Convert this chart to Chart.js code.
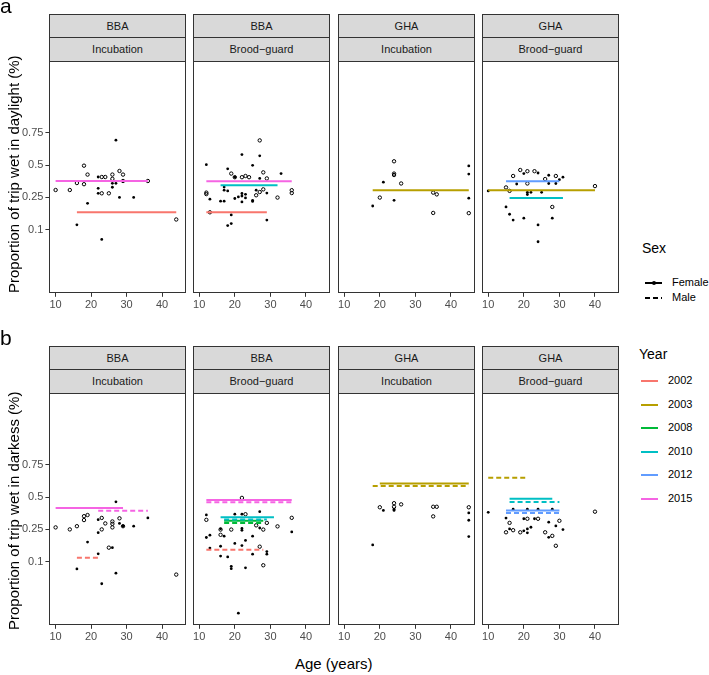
<!DOCTYPE html>
<html><head><meta charset="utf-8">
<script src="https://cdn.jsdelivr.net/npm/chart.js@4/dist/chart.umd.min.js"></script>
<style>
body{margin:0;width:709px;height:675px;background:#fff;position:relative;overflow:hidden;font-family:"Liberation Sans",Arial,sans-serif;}
.t{position:absolute;white-space:nowrap;color:#000;}
.strip{position:absolute;box-sizing:border-box;background:#d9d9d9;border:1px solid #333;font-size:11px;color:#1a1a1a;text-align:center;}
canvas{position:absolute;}
.key{position:absolute;height:2px;}
</style></head><body>
<script>
// ---------- data ----------
const years = ['2002','2003','2008','2010','2012','2015'];
const colonies = ['BBA','BBA','GHA','GHA'];
const stages = ['Incubation','Brood\u2212guard','Incubation','Brood\u2212guard'];
const xTicks = [10,20,30,40];
const yTicks = [0.1,0.25,0.5,0.75];
const yTickLabels = ['0.1','0.25','0.5','0.75'];
const sexes = ['Female','Male'];

// (a) daylight — points [age, proportion]; F = filled, M = open
const dayF_BBA_Inc = [[27,0.70],[22,0.40],[22,0.312],[22,0.277],[26,0.32],[26,0.35],[27,0.35],[28,0.25],[32,0.25],[19,0.214],[16,0.116],[23,0.074]];
const dayM_BBA_Inc = [[10,0.30],[14,0.30],[16,0.352],[18,0.495],[18,0.343],[19,0.42],[23,0.40],[24,0.40],[26,0.42],[26,0.385],[28,0.45],[29,0.42],[29,0.368],[23,0.277],[25,0.277],[36,0.368],[44,0.136]];
const dayF_BBA_Brood = [[22,0.59],[27,0.58],[12,0.505],[25,0.50],[18,0.47],[20,0.40],[27,0.39],[33,0.43],[13,0.24],[16,0.228],[17,0.228],[17,0.323],[17,0.30],[18,0.295],[20,0.244],[21,0.254],[22,0.277],[22,0.26],[22,0.223],[23,0.271],[23,0.248],[25,0.233],[25,0.226],[26,0.30],[29,0.28],[19,0.156],[29,0.134],[19,0.121],[18,0.114]];
const dayM_BBA_Brood = [[27,0.70],[19,0.43],[20,0.40],[22,0.40],[23,0.41],[24,0.40],[28,0.44],[29,0.39],[12,0.283],[12,0.273],[26,0.265],[27,0.287],[28,0.306],[32,0.25],[36,0.30],[36,0.28],[13,0.168]];
const dayF_GHA_Inc = [[21,0.36],[24,0.233],[18,0.20],[45,0.495],[45,0.426],[45,0.246]];
const dayM_GHA_Inc = [[24,0.534],[24,0.43],[24,0.418],[26,0.35],[20,0.25],[35,0.283],[36,0.271],[35,0.165],[45,0.164]];
const dayF_GHA_Brood = [[20,0.43],[24,0.435],[27,0.416],[31,0.40],[30,0.38],[18,0.346],[27,0.35],[29,0.35],[10,0.295],[21,0.285],[21,0.27],[22,0.285],[25,0.285],[15,0.195],[16,0.159],[17,0.134],[20,0.142],[28,0.142],[24,0.116],[24,0.069]];
const dayM_GHA_Brood = [[19,0.46],[21,0.45],[23,0.45],[17,0.41],[26,0.385],[29,0.41],[21,0.35],[15,0.32],[16,0.295],[40,0.33],[28,0.195]];

// mean lines [year, sex, ageFrom, ageTo, proportion]
const dayLines_BBA_Inc = [['2015','Female',10,36,0.368],['2002','Female',16,44,0.168]];
const dayLines_BBA_Brood = [['2015','Female',12,36,0.367],['2010','Female',16,32,0.336],['2002','Female',12,29,0.168]];
const dayLines_GHA_Inc = [['2003','Female',18,45,0.30]];
const dayLines_GHA_Brood = [['2012','Female',15,30,0.367],['2003','Female',10,40,0.30],['2010','Female',16,31,0.248]];

// (b) darkness
const nightF_BBA_Inc = [[27,0.46],[22,0.317],[28,0.29],[29,0.271],[32,0.271],[36,0.33],[22,0.23],[19,0.178],[26,0.152],[22,0.127],[16,0.08],[27,0.07],[23,0.05]];
const nightM_BBA_Inc = [[18,0.343],[18,0.314],[19,0.352],[23,0.33],[24,0.29],[26,0.304],[26,0.287],[26,0.263],[28,0.327],[29,0.271],[10,0.263],[14,0.25],[16,0.271],[23,0.25],[25,0.152],[44,0.067]];
const nightF_BBA_Brood = [[12,0.354],[20,0.36],[22,0.36],[27,0.38],[16,0.255],[22,0.257],[22,0.245],[27,0.26],[36,0.235],[12,0.203],[13,0.216],[17,0.21],[23,0.187],[20,0.172],[22,0.162],[25,0.21],[16,0.159],[13,0.151],[29,0.136],[29,0.126],[25,0.126],[16,0.119],[18,0.116],[19,0.087],[19,0.081],[23,0.083],[21,0.019]];
const nightM_BBA_Brood = [[22,0.495],[12,0.317],[23,0.36],[36,0.332],[16,0.25],[19,0.25],[26,0.278],[28,0.25],[29,0.295],[32,0.271],[16,0.218],[27,0.157],[28,0.09]];
const nightF_GHA_Inc = [[21,0.39],[24,0.40],[24,0.39],[45,0.37],[45,0.314],[45,0.208],[18,0.165]];
const nightM_GHA_Inc = [[20,0.416],[24,0.45],[24,0.42],[26,0.44],[35,0.42],[36,0.42],[35,0.343],[45,0.416]];
const nightF_GHA_Brood = [[10,0.375],[17,0.40],[21,0.40],[24,0.40],[28,0.40],[15,0.33],[20,0.325],[23,0.325],[27,0.30],[29,0.274],[31,0.25],[16,0.254],[21,0.254],[21,0.23],[20,0.242],[22,0.265],[27,0.204]];
const nightM_GHA_Brood = [[40,0.38],[16,0.295],[21,0.325],[24,0.325],[30,0.31],[17,0.246],[15,0.233],[19,0.233],[26,0.233],[28,0.212],[29,0.161]];

const nightLines_BBA_Inc = [['2015','Female',10,29,0.408],['2015','Male',22,36,0.386],['2002','Male',16,22,0.113]];
const nightLines_BBA_Brood = [['2015','Female',12,36,0.478],['2015','Male',12,36,0.458],['2010','Female',16,31,0.336],['2010','Male',17,29,0.32],['2008','Female',17,28,0.31],['2008','Male',17,28,0.295],['2002','Male',12,28,0.144]];
const nightLines_GHA_Inc = [['2003','Female',20,45,0.615],['2003','Male',18,45,0.595]];
const nightLines_GHA_Brood = [['2003','Male',10,21,0.66],['2010','Female',16,28,0.487],['2010','Male',16,30,0.46],['2012','Female',15,30,0.39],['2012','Male',15,30,0.37]];

// ---------- styling / layout ----------
const yearColors = {'2002':'#F8766D','2003':'#B79F00','2008':'#00BA38','2010':'#00BFC4','2012':'#619CFF','2015':'#F564E3'};
const FONT = '"Liberation Sans", Arial, sans-serif';
const PANEL_LEFT = [49,193,338,482];
const PANEL_W = 137;
const STRIP_TOP = [14,346];
const PLOT_TOP = [61,393];
const PLOT_H = 232;
const YMIN = -4.34, YMAX = 3.55;
const XMIN = 8.25, XMAX = 46.75;

const logit = p => Math.log(p/(1-p));

const panels = [
  [dayF_BBA_Inc, dayM_BBA_Inc, dayLines_BBA_Inc],
  [dayF_BBA_Brood, dayM_BBA_Brood, dayLines_BBA_Brood],
  [dayF_GHA_Inc, dayM_GHA_Inc, dayLines_GHA_Inc],
  [dayF_GHA_Brood, dayM_GHA_Brood, dayLines_GHA_Brood],
  [nightF_BBA_Inc, nightM_BBA_Inc, nightLines_BBA_Inc],
  [nightF_BBA_Brood, nightM_BBA_Brood, nightLines_BBA_Brood],
  [nightF_GHA_Inc, nightM_GHA_Inc, nightLines_GHA_Inc],
  [nightF_GHA_Brood, nightM_GHA_Brood, nightLines_GHA_Brood]
];

function addText(txt, css){
  const d = document.createElement('div');
  d.className = 't'; d.textContent = txt;
  Object.assign(d.style, css);
  document.body.appendChild(d);
  return d;
}

const borderPlugin = {
  id:'panelBorder',
  afterDatasetsDraw(chart){
    const {ctx, chartArea:a} = chart;
    ctx.save();
    ctx.strokeStyle = '#333333'; ctx.lineWidth = 1;
    ctx.strokeRect(Math.round(a.left)+0.5, Math.round(a.top)+0.5, Math.round(a.right-a.left)-1, Math.round(a.bottom-a.top)-1);
    ctx.restore();
  }
};

panels.forEach((pn, idx) => {
  const row = Math.floor(idx/4), col = idx % 4;
  const [F, M, lines] = pn;
  const showY = col === 0;
  // strips
  [colonies[col], stages[col]].forEach((lab, k) => {
    const s = document.createElement('div');
    s.className = 'strip';
    s.textContent = lab;
    const top = STRIP_TOP[row] + k*23;
    const h = k === 0 ? 24 : (PLOT_TOP[row] - top + 1);
    Object.assign(s.style, {left: PANEL_LEFT[col]+'px', top: top+'px', width: PANEL_W+'px', height: h+'px', lineHeight: (h-2)+'px'});
    document.body.appendChild(s);
  });
  const cv = document.createElement('canvas');
  let W = PANEL_W + (showY ? 32 : 0), H = PLOT_H + 22;
  cv.width = W; cv.height = H;
  Object.assign(cv.style, {left: '0px', top: '0px', width: W+'px', height: H+'px'});
  document.body.appendChild(cv);

  const datasets = [];
  lines.forEach(([yr, sex, a0, a1, v]) => {
    datasets.push({
      type:'line', data:[{x:a0, y:logit(v)},{x:a1, y:logit(v)}],
      borderColor: yearColors[yr], borderWidth: 2,
      borderDash: sex === 'Male' ? [5,3] : [],
      pointRadius: 0, fill:false, showLine:true, order: 0, borderCapStyle:'butt'
    });
  });
  datasets.push({
    type:'scatter', data: F.map(([x,p]) => ({x, y: logit(p)})),
    pointRadius: 1.4, pointBackgroundColor:'#000', pointBorderColor:'#000', pointBorderWidth:0, order: 1
  });
  datasets.push({
    type:'scatter', data: M.map(([x,p]) => ({x, y: logit(p)})),
    pointRadius: 1.7, pointBackgroundColor:'rgba(255,255,255,0)', pointBorderColor:'#000', pointBorderWidth:1, order: 1
  });

  const chart = new Chart(cv, {
    type:'scatter',
    data:{datasets},
    plugins:[borderPlugin],
    options:{
      responsive:false, maintainAspectRatio:false, animation:false, devicePixelRatio:1,
      layout:{padding:0},
      plugins:{legend:{display:false}, tooltip:{enabled:false}},
      scales:{
        x:{
          type:'linear', min:XMIN, max:XMAX,
          afterBuildTicks: s => { s.ticks = xTicks.map(v => ({value:v})); },
          ticks:{font:{size:11, family:FONT}, color:'#4d4d4d', padding:2, autoSkip:false, maxRotation:0, callback: v => String(v)},
          grid:{display:true, drawOnChartArea:false, drawTicks:true, tickLength:4, tickColor:'#333333', tickWidth:1},
          border:{display:false}
        },
        y:{
          type:'linear', display:showY, min:YMIN, max:YMAX,
          afterBuildTicks: s => { s.ticks = yTicks.map(v => ({value:logit(v)})); },
          ticks:{font:{size:11, family:FONT}, color:'#4d4d4d', padding:2, autoSkip:false, callback: (v,i) => yTickLabels[i]},
          grid:{display:true, drawOnChartArea:false, drawTicks:true, tickLength:4, tickColor:'#333333', tickWidth:1},
          border:{display:false}
        }
      }
    }
  });
  // fit canvas so that the chart area lands exactly on the panel rectangle
  for (let it = 0; it < 4; it++){
    const a = chart.chartArea;
    const nW = Math.round(chart.width - (a.right - a.left) + PANEL_W);
    const nH = Math.round(chart.height - (a.bottom - a.top) + PLOT_H);
    if (nW === chart.width && nH === chart.height) break;
    chart.resize(nW, nH);
  }
  const a = chart.chartArea;
  cv.style.width = chart.width + 'px';
  cv.style.height = chart.height + 'px';
  cv.style.left = (PANEL_LEFT[col] - Math.round(a.left)) + 'px';
  cv.style.top = (PLOT_TOP[row] - Math.round(a.top)) + 'px';
});

// titles
function vTitle(txt, cy){
  const d = addText(txt, {fontSize:'15px', left:'13px', top: cy+'px', transformOrigin:'0 0'});
  const w = d.offsetWidth, h = d.offsetHeight;
  d.style.left = (13 - h/2) + 'px';
  d.style.top = (cy + w/2) + 'px';
  d.style.transform = 'rotate(-90deg)';
}
vTitle('Proportion of trip wet in daylight (%)', 174);
vTitle('Proportion of trip wet in darkess (%)', 511);
const ax = addText('Age (years)', {fontSize:'15px', top:'655px'});
ax.style.left = (334 - ax.offsetWidth/2) + 'px';
addText('a', {fontSize:'21px', left:'0px', top:'-6px'});
addText('b', {fontSize:'21px', left:'0px', top:'326px'});

// Sex legend
addText('Sex', {fontSize:'14px', left:'642px', top:'240px'});
sexes.forEach((s, i) => {
  const y = 283 + i*15;
  const k = document.createElement('div');
  k.className = 'key';
  k.style.left = '645px'; k.style.top = (y-1)+'px'; k.style.width = '17px';
  k.style.background = i === 0 ? '#000' : 'repeating-linear-gradient(90deg,#000 0 5px,transparent 5px 8px)';
  document.body.appendChild(k);
  if (i === 0){
    const dot = document.createElement('div');
    Object.assign(dot.style, {position:'absolute', left:'651.5px', top:(y-2)+'px', width:'4px', height:'4px', borderRadius:'50%', background:'#000'});
    document.body.appendChild(dot);
  }
  addText(s, {fontSize:'11px', left:'672px', top:(y-7)+'px'});
});

// Year legend
addText('Year', {fontSize:'14px', left:'639px', top:'346px'});
years.forEach((yr, i) => {
  const y = 381 + i*23.6;
  const k = document.createElement('div');
  k.className = 'key';
  k.style.left = '641px'; k.style.top = (y-1)+'px'; k.style.width = '17px';
  k.style.background = yearColors[yr];
  document.body.appendChild(k);
  addText(yr, {fontSize:'11px', left:'668px', top:(y-7)+'px'});
});
</script>
</body></html>
